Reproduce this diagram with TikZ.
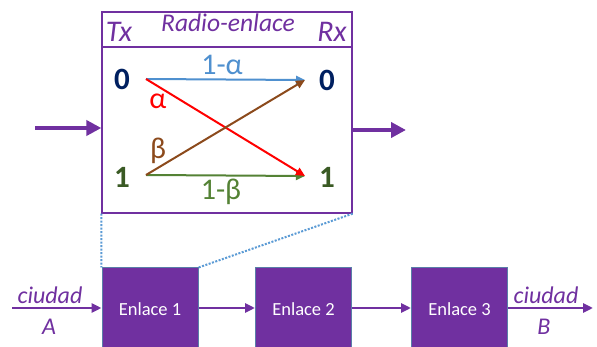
\documentclass[tikz,border=0pt]{standalone}
\usepackage{fontspec}
\setmainfont{Carlito}
\usetikzlibrary{arrows.meta}
\definecolor{purp}{HTML}{7030A0}
\definecolor{navy}{HTML}{002060}
\definecolor{dgreen}{HTML}{3A5A24}
\definecolor{lblue}{HTML}{4F90CF}
\definecolor{brn}{HTML}{8C4A1C}
\definecolor{grn}{HTML}{548235}
\definecolor{dotblue}{HTML}{5B9BD5}
\definecolor{bborder}{HTML}{5A7FA8}
\newcommand\myfs[1]{\fontsize{#1}{#1}\selectfont}
\tikzset{
  digit0/.style={font=\myfs{31}\bfseries, text=navy, inner sep=0pt},
  digit1/.style={font=\myfs{31}\bfseries, text=dgreen, inner sep=0pt},
  chan/.style={line width=2pt, -{Triangle[length=9pt,width=8pt]}},
  bigarrow/.style={purp, line width=4.5pt, -{Triangle[length=15pt,width=15pt]}},
  smallarrow/.style={purp, line width=2.5pt, -{Triangle[length=10pt,width=9pt]}},
  block/.style={draw=bborder, line width=1pt, fill=purp, text=white, minimum width=96pt, minimum height=82pt, inner sep=0pt, font=\myfs{18.5}},
  dotl/.style={dotblue, line width=2pt, dash pattern=on 2pt off 1.5pt},
  ptext/.style={text=purp, inner sep=0pt},
  glabel/.style={font=\myfs{30}, inner sep=0pt},
}
\begin{document}
\begin{tikzpicture}[x=1pt,y=-1pt]
\clip (0,0) rectangle (597,347);
\fill[white] (0,0) rectangle (597,347);
% top box
\node[draw=purp, line width=1.3pt, minimum width=250pt, minimum height=201pt, inner sep=0pt] (radio) at (227,112.5) {};
\coordinate (hl) at (102,47);
\coordinate (hr) at (352,47);
\draw[purp, line width=1.3pt] (hl) -- (hr);
\node[ptext, font=\myfs{30}\itshape] (tx) at (119,32) {Tx};
\node[ptext, font=\myfs{25.5}\itshape] (title) at (228,23) {Radio-enlace};
\node[ptext, font=\myfs{30}\itshape] (rx) at (332,32) {Rx};
% digits
\node[digit0] (t0) at (122,79) {0};
\node[digit1] (t1) at (122,177) {1};
\node[digit0] (r0) at (327,80) {0};
\node[digit1] (r1) at (327,177) {1};
\coordinate (s0) at (146,79);
\coordinate (s1) at (146,175);
\coordinate (e0) at (305,80);
\coordinate (e1) at (305,176);
\draw[chan, lblue] (s0) -- (e0);
\draw[chan, grn] (s1) -- (e1);
\draw[chan, red] (s0) -- (e1);
\draw[chan, brn] (s1) -- (e0);
\node[glabel, text=lblue] (la) at (222,65) {1-α};
\node[glabel, text=red] (al) at (158,101) {α};
\node[glabel, text=brn] (be) at (158,151) {β};
\node[glabel, text=grn] (lb) at (221,192) {1-β};
% in/out arrows of top box
\coordinate (inR) at (35,128);
\draw[bigarrow] (inR) -- (inR -| radio.west);
\coordinate (outR) at (406,130);
\draw[bigarrow] (outR -| radio.east) -- (outR);
% blocks
\node[block] (b1) at (150,309) {Enlace 1};
\node[block] (b2) at (303.5,309) {Enlace 2};
\node[block] (b3) at (459.5,309) {Enlace 3};
\draw[dotl] (radio.south west) -- (b1.north west);
\draw[dotl] (radio.south east) -- (b1.north east);
\coordinate (inA) at (12,308);
\coordinate (outB) at (593,308);
\draw[smallarrow] (inA) -- (inA -| b1.west);
\draw[smallarrow] (b1.east |- inA) -- (b2.west |- inA);
\draw[smallarrow] (b2.east |- inA) -- (b3.west |- inA);
\draw[smallarrow] (b3.east |- inA) -- (outB);
\node[ptext, font=\myfs{24}\itshape] (ca) at (50,295) {ciudad};
\node[ptext, font=\myfs{24}\itshape] (a) at (49,327) {A};
\node[ptext, font=\myfs{24}\itshape] (cb) at (546,295) {ciudad};
\node[ptext, font=\myfs{24}\itshape] (b) at (544,327) {B};
\end{tikzpicture}
\end{document}
